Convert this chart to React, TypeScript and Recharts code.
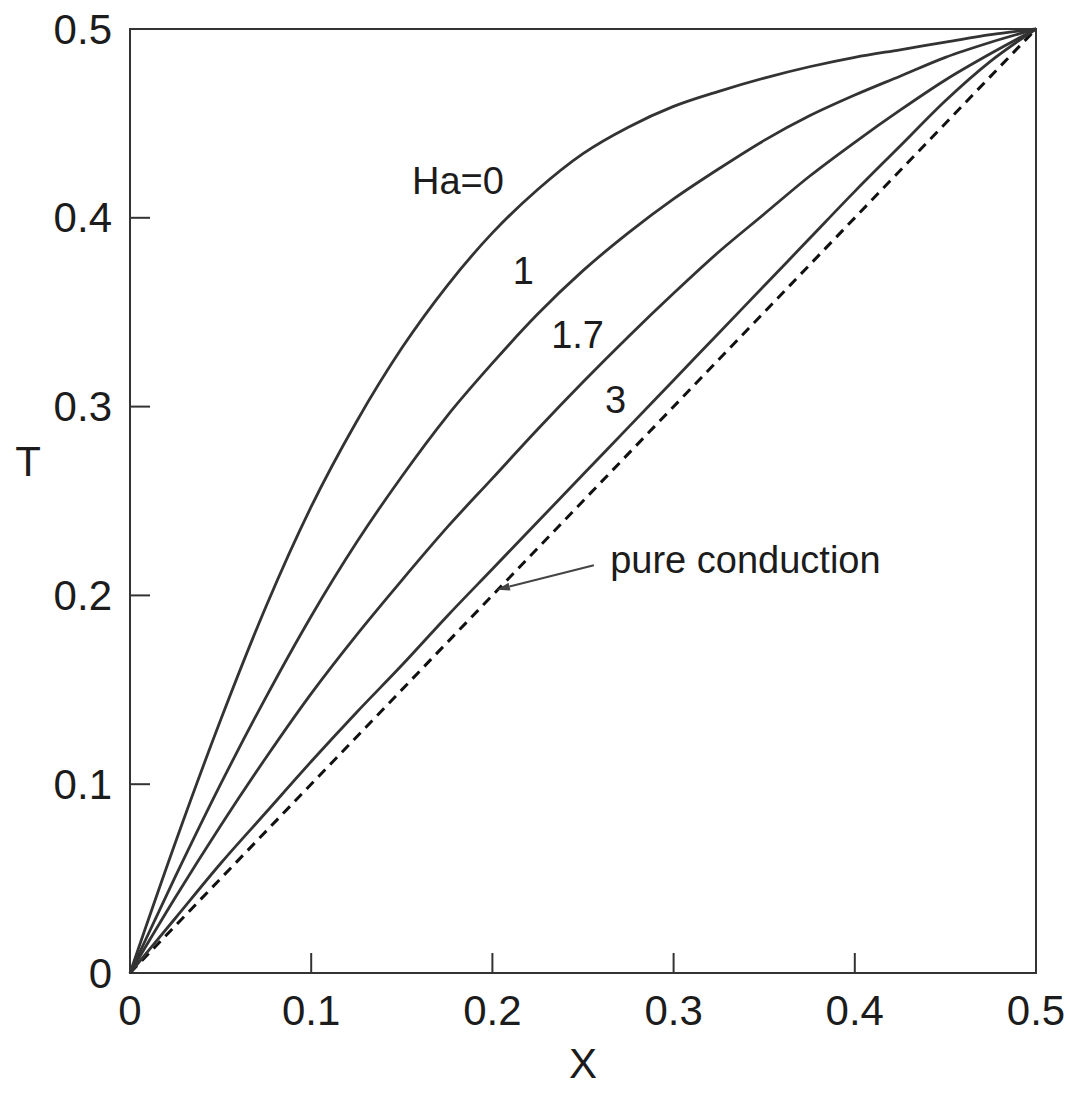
import {
  LineChart,
  Line,
  XAxis,
  YAxis,
  ReferenceArea,
  ReferenceDot,
  ReferenceLine,
} from "recharts";

const xs = [
  0, 0.025, 0.05, 0.075, 0.1, 0.125, 0.15, 0.175, 0.2, 0.225, 0.25, 0.275, 0.3, 0.325, 0.35, 0.375, 0.4,
  0.425, 0.45, 0.475, 0.5,
];

const ha0 = [
  0, 0.069, 0.134, 0.194, 0.247, 0.292, 0.331, 0.364, 0.392, 0.415, 0.434, 0.448, 0.459, 0.467, 0.474,
  0.48, 0.485, 0.489, 0.493, 0.497, 0.5,
];
const ha1 = [
  0, 0.051, 0.1, 0.146, 0.189, 0.228, 0.263, 0.295, 0.323, 0.349, 0.372, 0.392, 0.41, 0.426, 0.441,
  0.454, 0.465, 0.475, 0.485, 0.493, 0.5,
];
const ha17 = [
  0, 0.04, 0.078, 0.114, 0.148, 0.179, 0.208, 0.236, 0.262, 0.288, 0.313, 0.337, 0.36, 0.382, 0.402,
  0.422, 0.44, 0.457, 0.473, 0.487, 0.5,
];
const ha3 = [
  0, 0.029, 0.058, 0.085, 0.112, 0.138, 0.163, 0.189, 0.214, 0.239, 0.264, 0.289, 0.314, 0.339, 0.364,
  0.389, 0.414, 0.438, 0.462, 0.483, 0.5,
];
const conductionX = [0, 0.5];

const ticks = [0, 0.1, 0.2, 0.3, 0.4, 0.5];

const toRows = (vals: number[]) => xs.map((x, i) => ({ x, t: vals[i] }));
const conduction = conductionX.map((x) => ({ x, t: x }));

const FONT = '"Liberation Sans", Arial, Helvetica, sans-serif';
const INK = "#1c1c1c";
const LINE = "#333";

const fmt = (v: number) => (v === 0 ? "0" : v.toFixed(1));

const XTick = (props: any) => {
  const { x, y, payload } = props;
  const v = payload.value;
  return (
    <g>
      {v > 0 && v < 0.5 && (
        <line x1={x} y1={y} x2={x} y2={y - 20} stroke={LINE} strokeWidth={2} />
      )}
      <text
        x={x}
        y={y + 37}
        textAnchor="middle"
        dominantBaseline="central"
        fontSize={42}
        fontFamily={FONT}
        fill={INK}
      >
        {fmt(v)}
      </text>
    </g>
  );
};

const YTick = (props: any) => {
  const { x, y, payload } = props;
  const v = payload.value;
  return (
    <g>
      {v > 0 && v < 0.5 && (
        <line x1={x} y1={y} x2={x + 20} y2={y} stroke={LINE} strokeWidth={2} />
      )}
      <text
        x={x - 18}
        y={y}
        textAnchor="end"
        dominantBaseline="central"
        fontSize={42}
        fontFamily={FONT}
        fill={INK}
      >
        {fmt(v)}
      </text>
    </g>
  );
};

const Arrow = (p: any) => {
  const { x1, y1, x2, y2 } = p;
  const ang = Math.atan2(y2 - y1, x2 - x1);
  const len = 13;
  const w = 4;
  const bx = x2 - len * Math.cos(ang);
  const by = y2 - len * Math.sin(ang);
  const px = -Math.sin(ang) * w;
  const py = Math.cos(ang) * w;
  return (
    <g>
      <line x1={x1} y1={y1} x2={bx} y2={by} stroke="#444" strokeWidth={2} />
      <polygon
        points={`${x2},${y2} ${bx + px},${by + py} ${bx - px},${by - py}`}
        fill="#444"
      />
    </g>
  );
};

const labelStyle = { fontSize: 38, fontFamily: FONT, fill: INK };

export default function App() {
  return (
    <div style={{ position: "absolute", left: 0, top: 0, background: "#fff" }}>
      <LineChart
        width={1070}
        height={1093}
        margin={{ top: 29, right: 34, bottom: 0, left: 0 }}
      >
        <XAxis
          dataKey="x"
          type="number"
          domain={[0, 0.5]}
          ticks={ticks}
          interval={0}
          height={120}
          axisLine={false}
          tickLine={false}
          tickSize={0}
          tickMargin={0}
          tick={<XTick />}
          label={{
            content: (p: any) => {
              const vb = p.viewBox;
              return (
                <text
                  x={vb.x + vb.width / 2}
                  y={vb.y + 90}
                  textAnchor="middle"
                  dominantBaseline="central"
                  fontSize={42}
                  fontFamily={FONT}
                  fill={INK}
                >
                  X
                </text>
              );
            },
          }}
        />
        <YAxis
          type="number"
          domain={[0, 0.5]}
          ticks={ticks}
          interval={0}
          width={130}
          axisLine={false}
          tickLine={false}
          tickSize={0}
          tickMargin={0}
          tick={<YTick />}
          label={{
            content: (p: any) => {
              const vb = p.viewBox;
              return (
                <text
                  x={28}
                  y={vb.y + 432}
                  textAnchor="middle"
                  dominantBaseline="central"
                  fontSize={42}
                  fontFamily={FONT}
                  fill={INK}
                >
                  T
                </text>
              );
            },
          }}
        />
        <ReferenceArea
          x1={0}
          x2={0.5}
          y1={0}
          y2={0.5}
          fill="none"
          stroke={LINE}
          strokeWidth={2}
        />
        <Line
          data={conduction}
          dataKey="t"
          type="linear"
          stroke="#111"
          strokeWidth={3}
          strokeDasharray="10 7"
          dot={false}
          isAnimationActive={false}
        />
        <Line data={toRows(ha3)} dataKey="t" type="monotone" stroke={LINE} strokeWidth={2.8} dot={false} isAnimationActive={false} />
        <Line data={toRows(ha17)} dataKey="t" type="monotone" stroke={LINE} strokeWidth={2.8} dot={false} isAnimationActive={false} />
        <Line data={toRows(ha1)} dataKey="t" type="monotone" stroke={LINE} strokeWidth={2.8} dot={false} isAnimationActive={false} />
        <Line data={toRows(ha0)} dataKey="t" type="monotone" stroke={LINE} strokeWidth={2.8} dot={false} isAnimationActive={false} />

        <ReferenceDot x={0.181} y={0.42} r={0} stroke="none" label={{ value: "Ha=0", position: "center", ...labelStyle }} />
        <ReferenceDot x={0.217} y={0.372} r={0} stroke="none" label={{ value: "1", position: "center", ...labelStyle }} />
        <ReferenceDot x={0.247} y={0.338} r={0} stroke="none" label={{ value: "1.7", position: "center", ...labelStyle }} />
        <ReferenceDot x={0.268} y={0.304} r={0} stroke="none" label={{ value: "3", position: "center", ...labelStyle }} />
        <ReferenceDot x={0.265} y={0.219} r={0} stroke="none" label={{ value: "pure conduction", position: "right", offset: 0, ...labelStyle }} />
        <ReferenceLine
          segment={[
            { x: 0.256, y: 0.216 },
            { x: 0.2025, y: 0.203 },
          ]}
          shape={<Arrow />}
        />
      </LineChart>
    </div>
  );
}
